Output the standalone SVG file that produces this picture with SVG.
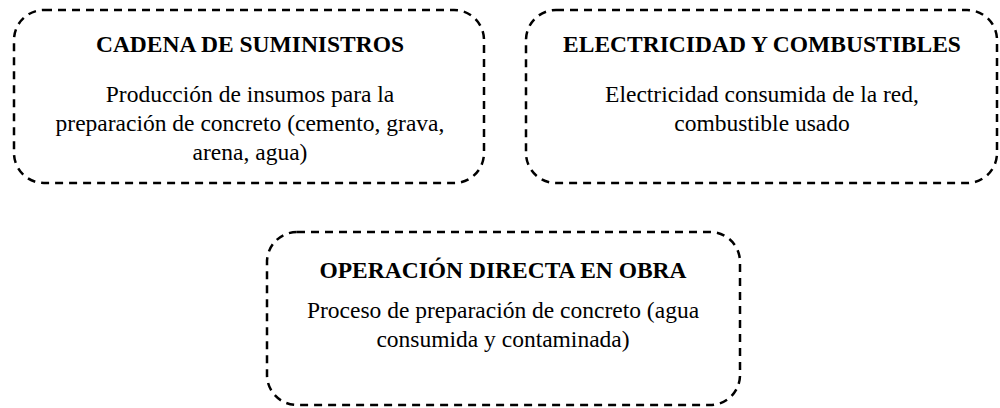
<svg xmlns="http://www.w3.org/2000/svg" width="1000" height="408" viewBox="0 0 1000 408">
<style>
text{font-family:"Times New Roman","Liberation Serif",serif !important;font-size:23.5px;text-anchor:middle;fill:#000}
.t{font-weight:bold}
.box{fill:none;stroke:#000;stroke-width:2.5;stroke-dasharray:8 6}
</style>
<rect width="1000" height="408" fill="#fff"/>
<g id="cadena">
<rect class="box" x="14" y="10" width="470" height="173" rx="30" ry="30"/>
<text class="t" x="250" y="52">CADENA DE SUMINISTROS</text>
<text x="250" y="102">Producción de insumos para la</text>
<text x="250" y="131">preparación de concreto (cemento, grava,</text>
<text x="250" y="160">arena, agua)</text>
</g>
<g id="electricidad">
<rect class="box" x="526" y="10" width="471" height="173" rx="30" ry="30"/>
<text class="t" x="762" y="52">ELECTRICIDAD Y COMBUSTIBLES</text>
<text x="762" y="102">Electricidad consumida de la red,</text>
<text x="762" y="131">combustible usado</text>
</g>
<g id="operacion">
<rect class="box" x="267" y="232" width="473" height="173" rx="30" ry="30"/>
<text class="t" x="503" y="278">OPERACIÓN DIRECTA EN OBRA</text>
<text x="503" y="318">Proceso de preparación de concreto (agua</text>
<text x="503" y="347">consumida y contaminada)</text>
</g>
<g id="connectors"></g>
</svg>
